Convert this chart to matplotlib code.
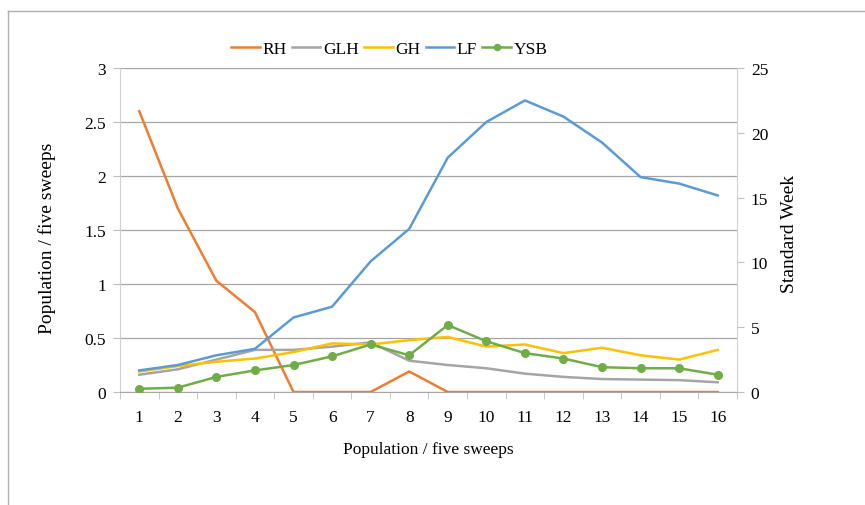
import matplotlib.pyplot as plt
from matplotlib.lines import Line2D

plt.rcParams['font.family'] = ['Liberation Serif', 'DejaVu Serif']

weeks = list(range(1, 17))
rh = [2.60, 1.70, 1.03, 0.74, 0, 0, 0, 0.19, 0, 0, 0, 0, 0, 0, 0, 0]
glh = [0.16, 0.21, 0.30, 0.39, 0.39, 0.42, 0.46, 0.29, 0.25, 0.22, 0.17, 0.14, 0.12, 0.115, 0.11, 0.09]
gh = [0.19, 0.24, 0.28, 0.31, 0.37, 0.45, 0.44, 0.48, 0.51, 0.42, 0.44, 0.36, 0.41, 0.34, 0.30, 0.39]
lf = [0.20, 0.25, 0.34, 0.40, 0.69, 0.79, 1.21, 1.51, 2.17, 2.50, 2.70, 2.55, 2.31, 1.99, 1.93, 1.82]
ysb = [0.03, 0.04, 0.14, 0.20, 0.25, 0.33, 0.44, 0.34, 0.62, 0.47, 0.36, 0.31, 0.23, 0.22, 0.22, 0.16]

series = [('RH', rh, '#ED7D31'), ('GLH', glh, '#A5A5A5'), ('GH', gh, '#FFC000'),
          ('LF', lf, '#5B9BD5'), ('YSB', ysb, '#70AD47')]

fig = plt.figure(figsize=(8.65, 5.06), dpi=100)
ax = fig.add_axes([0.1387, 0.2233, 0.7133, 0.6403])

for name, vals, col in series:
    if name == 'YSB':
        ax.plot(weeks, vals, color=col, lw=1.8, marker='o', ms=5.5, label=name, zorder=4)
    else:
        ax.plot(weeks, vals, color=col, lw=1.8, label=name, zorder=3)

ax.set_xlim(0.5, 16.5)
ax.set_ylim(0, 3)
ax.set_yticks([0, 0.5, 1, 1.5, 2, 2.5, 3])
ax.set_yticklabels(['0', '0.5', '1', '1.5', '2', '2.5', '3'])
ax.grid(axis='y', color='#a6a6a6', lw=0.9, zorder=0)
ax.set_xticks(weeks)
ax.set_xticks([w + 0.5 for w in range(0, 17)], minor=True)
ax.tick_params(axis='x', which='major', length=0, pad=12, labelsize=12.5)
ax.tick_params(axis='x', which='minor', length=5, color='#bfbfbf')
ax.tick_params(axis='y', length=5, color='#bfbfbf', pad=5, labelsize=12.5)

for s in ['left', 'right', 'bottom']:
    ax.spines[s].set_color('#d0d0d0')
ax.spines['bottom'].set_color('#a6a6a6')
ax.spines['top'].set_visible(False)

ax.set_xlabel('Population / five sweeps', fontsize=12.5)
ax.xaxis.set_label_coords(0.5, -0.152)
ax.set_ylabel('Population / five sweeps', fontsize=14)
ax.yaxis.set_label_coords(-0.104, 0.478)

ax2 = ax.twinx()
ax2.set_ylim(0, 25)
ax2.set_yticks([0, 5, 10, 15, 20, 25])
ax2.tick_params(axis='y', length=5, color='#bfbfbf', pad=5, labelsize=12.5)
for s in ['left', 'right', 'bottom', 'top']:
    ax2.spines[s].set_visible(False)
ax2.set_ylabel('Standard Week', fontsize=14, rotation=90)
ax2.yaxis.set_label_coords(1.071, 0.492)

ax.legend(loc='center left', bbox_to_anchor=(0.18, 1.058), ncol=5, frameon=False,
          fontsize=12.5, handlelength=1.65, handletextpad=0.15, columnspacing=0.3,
          borderaxespad=0, borderpad=0, markerscale=0.8)

# outer chart frame
fig.add_artist(Line2D([8 / 865, 1], [1 - 12 / 506, 1 - 12 / 506], color='#b0b0b0', lw=1))
fig.add_artist(Line2D([8 / 865, 8 / 865], [0, 1 - 12 / 506], color='#b0b0b0', lw=1))

fig.savefig('out.png', dpi=100)
